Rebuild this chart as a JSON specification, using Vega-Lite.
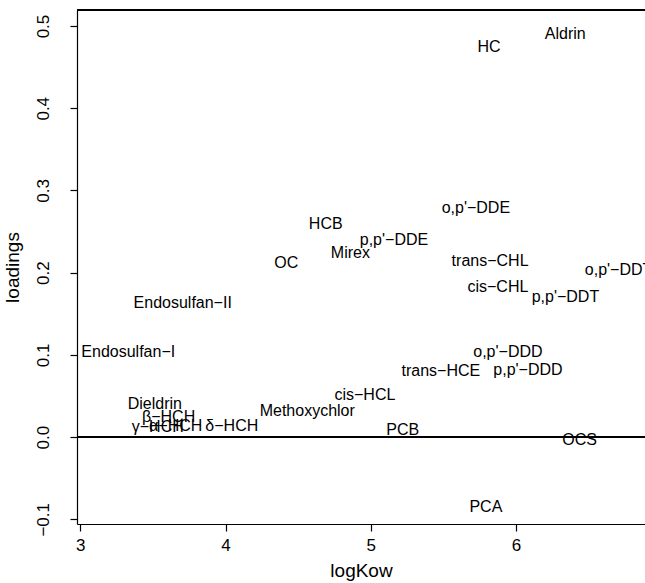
{
  "$schema": "https://vega.github.io/schema/vega-lite/v6.json",
  "autosize": {"type": "none"},
  "padding": {"left": 77, "top": 10, "right": 0, "bottom": 59},
  "width": 568,
  "height": 514,
  "background": "white",
  "config": {
    "view": {"stroke": null},
    "font": "Liberation Sans",
    "axis": {"grid": false, "domainColor": "black", "tickColor": "black", "labelColor": "black", "titleColor": "black", "domainWidth": 1.2, "tickWidth": 1.2, "tickSize": 7, "labelFont": "Liberation Sans", "titleFont": "Liberation Sans", "labelFontSize": 17, "titleFontSize": 19, "titleFontWeight": "normal"}
  },
  "data": {"values": [
    {"label": "Aldrin", "logKow": 6.340, "loadings": 0.490},
    {"label": "HC", "logKow": 5.815, "loadings": 0.474},
    {"label": "o,p'−DDE", "logKow": 5.724, "loadings": 0.2788},
    {"label": "HCB", "logKow": 4.690, "loadings": 0.259},
    {"label": "p,p'−DDE", "logKow": 5.160, "loadings": 0.2395},
    {"label": "Mirex", "logKow": 4.860, "loadings": 0.224},
    {"label": "OC", "logKow": 4.418, "loadings": 0.2115},
    {"label": "trans−CHL", "logKow": 5.822, "loadings": 0.2143},
    {"label": "o,p'−DDT", "logKow": 6.707, "loadings": 0.203},
    {"label": "cis−CHL", "logKow": 5.876, "loadings": 0.182},
    {"label": "p,p'−DDT", "logKow": 6.341, "loadings": 0.1704},
    {"label": "Endosulfan−II", "logKow": 3.705, "loadings": 0.163},
    {"label": "Endosulfan−I", "logKow": 3.330, "loadings": 0.103},
    {"label": "o,p'−DDD", "logKow": 5.945, "loadings": 0.1035},
    {"label": "trans−HCE", "logKow": 5.483, "loadings": 0.0804},
    {"label": "p,p'−DDD", "logKow": 6.083, "loadings": 0.0812},
    {"label": "cis−HCL", "logKow": 4.960, "loadings": 0.0508},
    {"label": "Dieldrin", "logKow": 3.513, "loadings": 0.0398},
    {"label": "Methoxychlor", "logKow": 4.563, "loadings": 0.0313},
    {"label": "β−HCH", "logKow": 3.608, "loadings": 0.024},
    {"label": "γ−HCH", "logKow": 3.533, "loadings": 0.0118},
    {"label": "α−HCH", "logKow": 3.657, "loadings": 0.013},
    {"label": "δ−HCH", "logKow": 4.043, "loadings": 0.013},
    {"label": "PCB", "logKow": 5.221, "loadings": 0.009},
    {"label": "OCS", "logKow": 6.438, "loadings": -0.003},
    {"label": "PCA", "logKow": 5.793, "loadings": -0.0856}
  ]},
  "layer": [
    {
      "mark": {"type": "text", "fontSize": 16, "font": "Liberation Sans", "color": "black", "align": "center", "baseline": "middle"},
      "encoding": {
        "x": {"field": "logKow", "type": "quantitative", "scale": {"domain": [2.977, 6.889], "nice": false, "zero": false},
              "axis": {"values": [3, 4, 5, 6], "format": "d", "labelPadding": 6, "title": "logKow", "titlePadding": 8}},
        "y": {"field": "loadings", "type": "quantitative", "scale": {"domain": [-0.1057, 0.5195], "nice": false, "zero": false},
              "axis": {"values": [-0.1, 0, 0.1, 0.2, 0.3, 0.4, 0.5], "format": ".1f", "labelAngle": -90, "labelAlign": "center", "labelBaseline": "bottom", "labelPadding": 18, "title": "loadings", "titlePadding": 12}},
        "text": {"field": "label"}
      }
    },
    {
      "mark": {"type": "rule", "color": "black", "strokeWidth": 1.2},
      "encoding": {"y": {"datum": 0, "type": "quantitative"}}
    },
    {
      "mark": {"type": "rule", "color": "black", "strokeWidth": 1.2},
      "encoding": {"y": {"datum": 0.5195, "type": "quantitative"}}
    }
  ]
}
